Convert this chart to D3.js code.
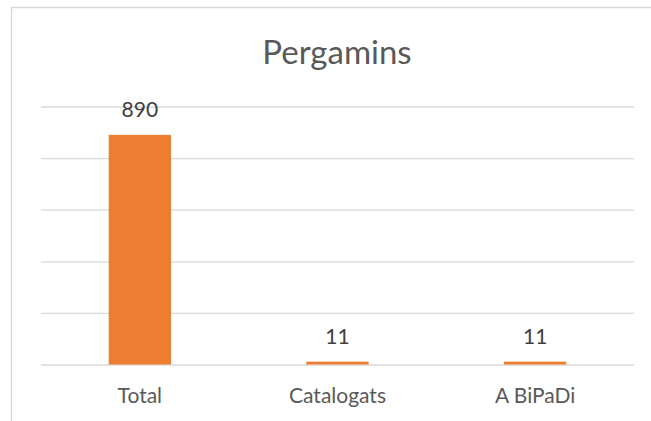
<!DOCTYPE html>
<html>
<head>
<meta charset="utf-8">
<script src="https://cdn.jsdelivr.net/npm/d3@7"></script>
<style>
  body { margin: 0; background: #fff; }
  text { font-family: Lato, "Open Sans", sans-serif; }
</style>
</head>
<body>
<div id="chart"></div>
<script>
// chart values
const categories = ["Total", "Catalogats", "A BiPaDi"];
const values = [890, 11, 11];
const yTicks = [0, 200, 400, 600, 800, 1000];
const title = "Pergamins";

let W = 651, H = 421;
let margin = {top: 106.5, right: 17, bottom: 56.5, left: 41},
    width = W - margin.left - margin.right,
    height = H - margin.top - margin.bottom;

let svg = d3.select("#chart").append("svg")
    .attr("width", W)
    .attr("height", H);

// chart frame (cut off on the right and bottom)
svg.append("rect")
    .attr("x", 11.5).attr("y", 7.5)
    .attr("width", 800).attr("height", 600)
    .attr("fill", "none")
    .attr("stroke", "#d9d9d9")
    .attr("stroke-width", 1.5);

svg.append("text")
    .attr("x", 337)
    .attr("y", 63.5)
    .attr("text-anchor", "middle")
    .attr("font-size", 33)
    .attr("fill", "#595959")
    .text(title);

let g = svg.append("g")
    .attr("transform", "translate(" + margin.left + "," + margin.top + ")");

let x = d3.scaleBand()
    .domain(categories)
    .range([0, width])
    .paddingInner(0.685)
    .paddingOuter(0.3425);

let y = d3.scaleLinear()
    .domain([0, 1000])
    .range([height, 0]);

// gridlines
g.append("g")
    .call(d3.axisLeft(y)
        .tickValues(yTicks)
        .tickSize(-width)
        .tickFormat(function () { return null; }))
    .call(function (a) { a.select(".domain").remove(); })
    .selectAll("line")
    .attr("stroke", "#d9d9d9")
    .attr("stroke-width", 1.3);

// bars
g.selectAll(".bar")
    .data(values)
    .enter().append("rect")
    .attr("class", "bar")
    .attr("x", function (d, i) { return x(categories[i]); })
    .attr("y", function (d) { return y(d); })
    .attr("width", x.bandwidth())
    .attr("height", function (d) { return height - y(d); })
    .attr("fill", "#ed7d31");

// data labels
g.selectAll(".lbl")
    .data(values)
    .enter().append("text")
    .attr("class", "lbl")
    .attr("x", function (d, i) { return x(categories[i]) + x.bandwidth() / 2; })
    .attr("y", function (d) { return y(d) - 17.5; })
    .attr("text-anchor", "middle")
    .attr("font-size", 21)
    .attr("fill", "#404040")
    .text(function (d) { return d; });

// category labels
g.append("g")
    .attr("transform", "translate(0," + height + ")")
    .call(d3.axisBottom(x).tickSize(0).tickPadding(0))
    .call(function (a) { a.select(".domain").remove(); })
    .selectAll("text")
    .attr("dy", null)
    .attr("y", 38)
    .attr("font-size", 21)
    .attr("font-family", "Lato, 'Open Sans', sans-serif")
    .attr("fill", "#595959");
</script>
</body>
</html>
